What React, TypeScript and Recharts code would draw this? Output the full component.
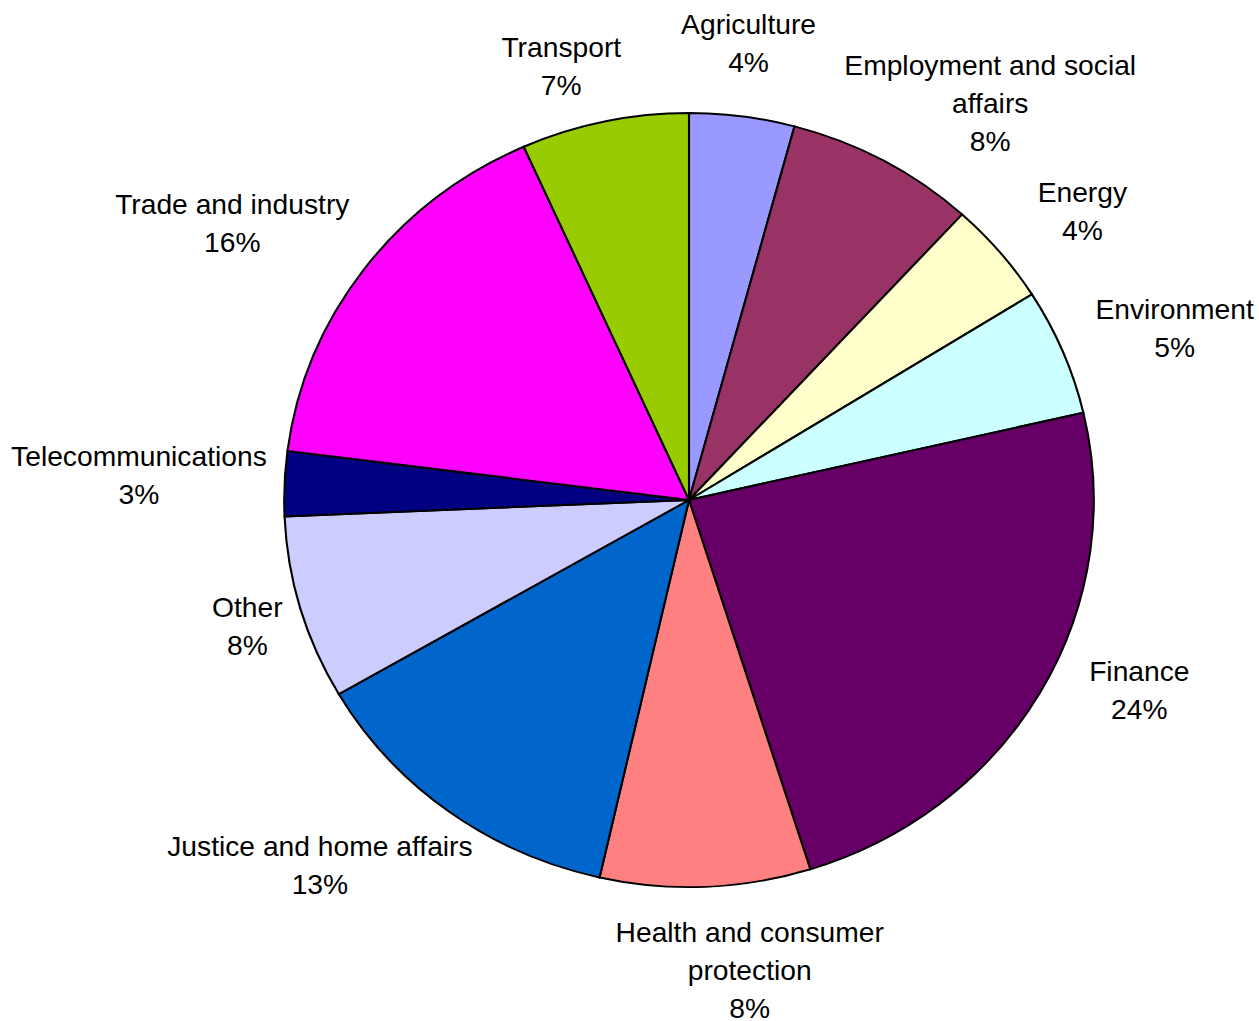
import { PieChart, Pie, Cell } from 'recharts';

const categories = [
  'Agriculture',
  'Employment and social affairs',
  'Energy',
  'Environment',
  'Finance',
  'Health and consumer protection',
  'Justice and home affairs',
  'Other',
  'Telecommunications',
  'Trade and industry',
  'Transport',
];

const shares = [4.2, 7.6, 4.3, 5.3, 23.8, 8.4, 13.1, 7.7, 2.7, 16.3, 6.7];

const colors = [
  '#9999FF', '#993366', '#FFFFCC', '#CCFFFF', '#660066', '#FF8080',
  '#0066CC', '#CCCCFF', '#000080', '#FF00FF', '#99CC00',
];

// small hand tweaks to the label boxes (screen px), like dragged labels in the original
const labelNudge: Record<string, [number, number]> = {
  Agriculture: [-8, 5],
  'Employment and social affairs': [16, 28],
  Energy: [16, 9],
  Environment: [0, 7],
  Finance: [19, -40],
  'Health and consumer protection': [37, -13],
  'Justice and home affairs': [-14, -9],
  Other: [21, -4],
  Telecommunications: [24, -5],
  'Trade and industry': [-4, 1],
  Transport: [-22, 21],
};

const data = categories.map((name, i) => ({ name, value: shares[i] }));

const FONT_SIZE = 27;
const LINE_H = 38;
const FONT = `${FONT_SIZE}px "Liberation Sans", Arial, sans-serif`;
const STRETCH = 1.046;
const CX = 689;
const CY = 500;
const R = 387;
const GAP = 40;

let ctx: CanvasRenderingContext2D | null = null;
const measure = (s: string) => {
  if (!ctx) {
    const c = document.createElement('canvas');
    ctx = c.getContext('2d');
  }
  if (ctx) {
    ctx.font = FONT;
    return ctx.measureText(s).width;
  }
  return s.length * FONT_SIZE * 0.5;
};

const wrap = (text: string, maxW: number) => {
  const words = text.split(' ');
  const lines: string[] = [];
  let cur = '';
  words.forEach((w) => {
    const t = cur ? cur + ' ' + w : w;
    if (cur && measure(t) > maxW) {
      lines.push(cur);
      cur = w;
    } else cur = t;
  });
  if (cur) lines.push(cur);
  return lines;
};

const renderLabel = (props: any) => {
  const { cx, cy, midAngle, outerRadius, percent, name } = props;
  const rad = (midAngle * Math.PI) / 180;
  const s = Math.cos(rad);
  const c = Math.sin(rad);
  const lines = [...wrap(name, 320), `${Math.round(percent * 100)}%`];
  const w = Math.max(...lines.map(measure));
  const h = lines.length * LINE_H;
  const [nx, ny] = labelNudge[name] || [0, 0];
  const ax = cx + (outerRadius + GAP) * s;
  const ay = cy - (outerRadius + GAP) * c;
  const bx = ax + (s * w) / 2 + nx / STRETCH;
  const by = ay - (c * h) / 2 + ny;
  const top = by - h / 2;
  return (
    <text x={bx} y={top} textAnchor="middle" fill="#000" style={{ font: FONT }}>
      {lines.map((l, i) => (
        <tspan key={i} x={bx} y={top + LINE_H * i + LINE_H / 2 + FONT_SIZE * 0.35}>
          {l}
        </tspan>
      ))}
    </text>
  );
};

export default function App() {
  return (
    <div style={{ position: 'absolute', left: 0, top: 0, width: 1259, height: 1021, background: '#fff', overflow: 'hidden' }}>
      <div style={{ transform: `scaleX(${STRETCH})`, transformOrigin: `${CX}px 0px`, width: 1259, height: 1021 }}>
        <PieChart width={1259} height={1021} margin={{ top: 0, right: 0, bottom: 0, left: 0 }}>
          <Pie
            data={data}
            dataKey="value"
            nameKey="name"
            cx={CX}
            cy={CY}
            outerRadius={R}
            startAngle={90}
            endAngle={-270}
            stroke="#000"
            strokeWidth={2}
            label={renderLabel}
            labelLine={false}
            isAnimationActive={false}
          >
            {data.map((d, i) => (
              <Cell key={d.name} fill={colors[i]} />
            ))}
          </Pie>
        </PieChart>
      </div>
    </div>
  );
}
